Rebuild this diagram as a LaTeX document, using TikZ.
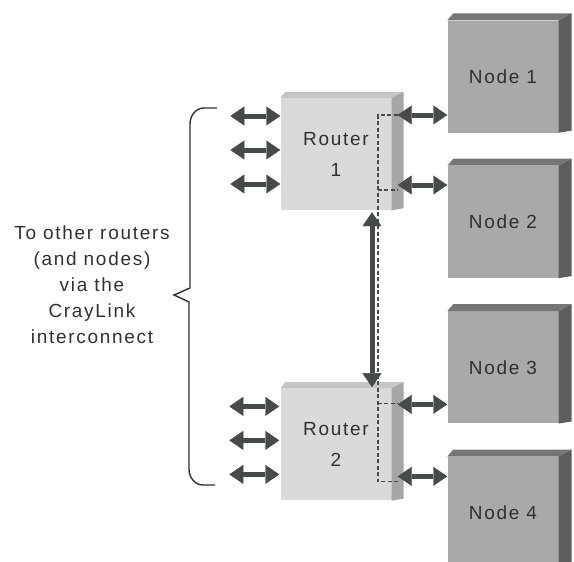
\documentclass[tikz,border=0pt]{standalone}
\usepackage{fontspec}
\setmainfont{Liberation Sans}
\newfontfamily\diagfont[LetterSpace=9]{Liberation Sans}
\usepackage{tikz}
\usetikzlibrary{arrows.meta,positioning,calc}

\definecolor{nodeface}{HTML}{A9A9A9}
\definecolor{nodeside}{HTML}{5E5E5E}
\definecolor{nodetop}{HTML}{767676}
\definecolor{routerface}{HTML}{DADADA}
\definecolor{routerside}{HTML}{A6A6A6}
\definecolor{routertop}{HTML}{C6C6C6}
\definecolor{arrgray}{HTML}{474B47}
\definecolor{txtgray}{HTML}{303030}

\begin{document}
\begin{tikzpicture}[
    x=1pt, y=-1pt,
    node distance=33pt,
    box/.style={rectangle, inner sep=0pt, align=center,
                minimum width=111pt, minimum height=112pt,
                text=txtgray, font=\diagfont\fontsize{19}{31}\selectfont},
    nodebox/.style={box, fill=nodeface},
    routerbox/.style={box, fill=routerface},
    link/.style={{Triangle[length=14pt,width=19pt,line width=0.4pt]}-{Triangle[length=14pt,width=19pt,line width=0.4pt]},
                 line width=5pt, draw=arrgray, fill=arrgray},
    wire/.style={dash pattern=on 4pt off 2.5pt, line width=1.7pt, draw=arrgray},
    bracket/.style={line width=1.4pt, draw=txtgray},
  ]
    \useasboundingbox (0,0) rectangle (574,562);

    % ---- Routers ----
    \node[routerbox] (R1) at (336,154) {Router\\1};
    \node[routerbox, below=178pt of R1] (R2) {Router\\2};

    % ---- Nodes, top to bottom ----
    \node[nodebox] (N1) at (503,76.5) {Node 1};
    \node[nodebox, below=of N1] (N2) {Node 2};
    \node[nodebox, below=of N2] (N3) {Node 3};
    \node[nodebox, below=of N3] (N4) {Node 4};

    % ---- 3D edges ----
    \foreach \b in {N1,N2,N3,N4} {
      \fill[nodetop] (\b.north west) -- ++(6,-7)
        -- ($(\b.north east)+(13,-7)$) -- (\b.north east) -- cycle;
      \fill[nodeside] (\b.north east) -- ++(13,-7)
        -- ($(\b.south east)+(13,-2)$) -- (\b.south east) -- cycle;
    }
    \foreach \b in {R1,R2} {
      \fill[routertop] (\b.north west) -- ++(5,-6)
        -- ($(\b.north east)+(12,-6)$) -- (\b.north east) -- cycle;
      \fill[routerside] (\b.north east) -- ++(12,-6)
        -- ($(\b.south east)+(12,-2)$) -- (\b.south east) -- cycle;
    }

    % ---- Internal wiring (dashed) ----
    \coordinate (w1) at ($(R1.east)+(-14,-39)$);
    \coordinate (w2) at ($(R1.east)+(-14,36)$);
    \coordinate (w3) at ($(R2.east)+(-14,-41)$);
    \coordinate (w4) at ($(R2.east)+(-14,37)$);
    \draw[wire] ($(w1)+(20,0)$) -- (w1) -- (w4) -- ++(20,0);
    \draw[wire] (w2) -- ++(20,0);
    \draw[wire] (w3) -- ++(20,0);

    % ---- Links to other routers ----
    \foreach \dy in {-38,-4,30} {
      \draw[link] ($(R1.west)+(0,\dy)$) -- ++(-50,0);
      \draw[link] ($(R2.west)+(-1,\dy)$) -- ++(-50,0);
    }

    % ---- Links from routers to nodes ----
    \coordinate (r1a) at ($(R1.east)+(6,-39)$);
    \coordinate (r1b) at ($(R1.east)+(6,31)$);
    \coordinate (r2a) at ($(R2.east)+(6,-40)$);
    \coordinate (r2b) at ($(R2.east)+(6,32)$);
    \draw[link] (r1a) -- (r1a -| N1.west);
    \draw[link] (r1b) -- (r1b -| N2.west);
    \draw[link] (r2a) -- (r2a -| N3.west);
    \draw[link] (r2b) -- (r2b -| N4.west);

    % ---- Router to router ----
    \draw[link] ($(R1.south)+(36,2)$) -- ($(R2.north)+(36,-1)$);

    % ---- Brace and label ----
    \node[align=center, text=txtgray, font=\diagfont\fontsize{19}{26}\selectfont]
      (lbl) at (92,285) {To other routers\\(and nodes)\\via the\\CrayLink\\interconnect};
    \draw[bracket] (217,108) -- (204,108) to[out=180,in=90] (190,124)
      -- (190,288) -- (174,295) -- (189,302) -- (189,469)
      to[out=-90,in=180] (203,485) -- (215,485);
\end{tikzpicture}
\end{document}
